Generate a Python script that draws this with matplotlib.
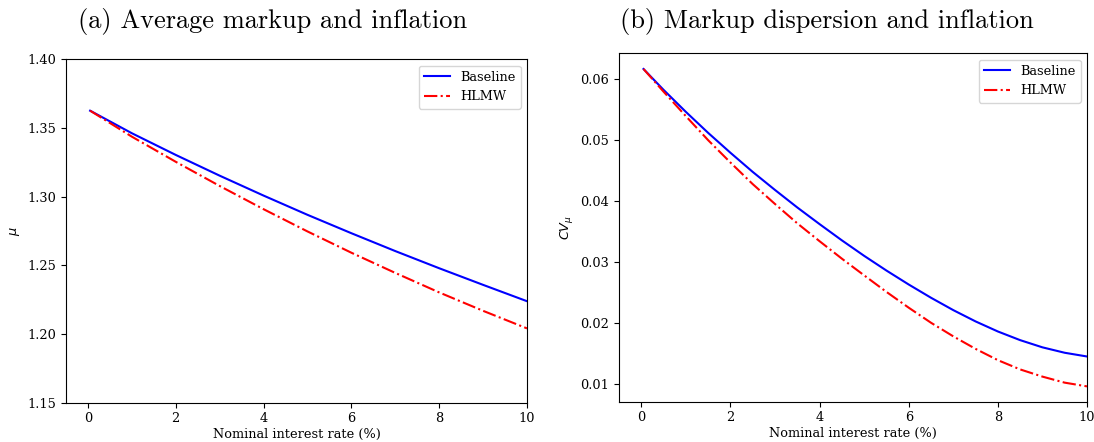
import matplotlib
matplotlib.use("Agg")
import matplotlib.pyplot as plt

plt.rcParams["font.family"] = "DejaVu Serif"
plt.rcParams["font.size"] = 9.3

# Panel (a): average markup vs nominal rate
rate_a = [0.05, 1, 2, 3, 4, 5, 6, 7, 8, 9, 10]
mu_base = [1.3626, 1.3462, 1.3304, 1.3153, 1.3008, 1.2868, 1.2734, 1.2604, 1.2479, 1.2358, 1.2239]
mu_hlmw = [1.3626, 1.3437, 1.3254, 1.3078, 1.2909, 1.2747, 1.2592, 1.2445, 1.2303, 1.2169, 1.2041]

# Panel (b): markup dispersion vs nominal rate
rate_b = [0.05, 0.5, 1, 1.5, 2, 2.5, 3, 3.5, 4, 4.5, 5, 5.5, 6, 6.5, 7, 7.5, 8, 8.5, 9, 9.5, 10]
cv_base = [0.06169, 0.05827, 0.05466, 0.05122, 0.04796, 0.04482, 0.04186, 0.03899, 0.03626, 0.0336,
           0.03106, 0.02865, 0.02636, 0.02419, 0.02216, 0.02031, 0.01866, 0.01724, 0.01606, 0.01517, 0.01456]
cv_hlmw = [0.06169, 0.05797, 0.05396, 0.05002, 0.04636, 0.04282, 0.03956, 0.03639, 0.03346, 0.0306,
           0.02786, 0.02515, 0.02256, 0.02009, 0.01786, 0.01581, 0.01396, 0.01244, 0.01126, 0.01027, 0.00966]

fig = plt.figure(figsize=(10.94, 4.42), dpi=100)
ax1 = fig.add_axes([0.0603, 0.0889, 0.4214, 0.7769])
ax2 = fig.add_axes([0.5658, 0.0912, 0.4278, 0.7882])

ax1.plot(rate_a, mu_base, color="blue", label="Baseline")
ax1.plot(rate_a, mu_hlmw, color="red", linestyle="-.", label="HLMW")
ax1.set_xlim(-0.5, 10)
ax1.set_ylim(1.15, 1.40)
ax1.set_yticks([1.15, 1.20, 1.25, 1.30, 1.35, 1.40])
ax1.set_xlabel("Nominal interest rate (%)", labelpad=2)
ax1.set_ylabel(r"$\mu$")
ax1.legend(loc="upper right")

ax2.plot(rate_b, cv_base, color="blue", label="Baseline")
ax2.plot(rate_b, cv_hlmw, color="red", linestyle="-.", label="HLMW")
ax2.set_xlim(-0.5, 10)
ax2.set_ylim(0.00715, 0.06426)
ax2.set_xlabel("Nominal interest rate (%)", labelpad=2)
ax2.set_ylabel(r"$CV_\mu$")
ax2.legend(loc="upper right")

fig.text(0.249, 0.952, "(a) Average markup and inflation", family="cmr10",
         fontsize=19, ha="center", va="center")
fig.text(0.756, 0.952, "(b) Markup dispersion and inflation", family="cmr10",
         fontsize=19, ha="center", va="center")

fig.savefig("out.png", dpi=100)
